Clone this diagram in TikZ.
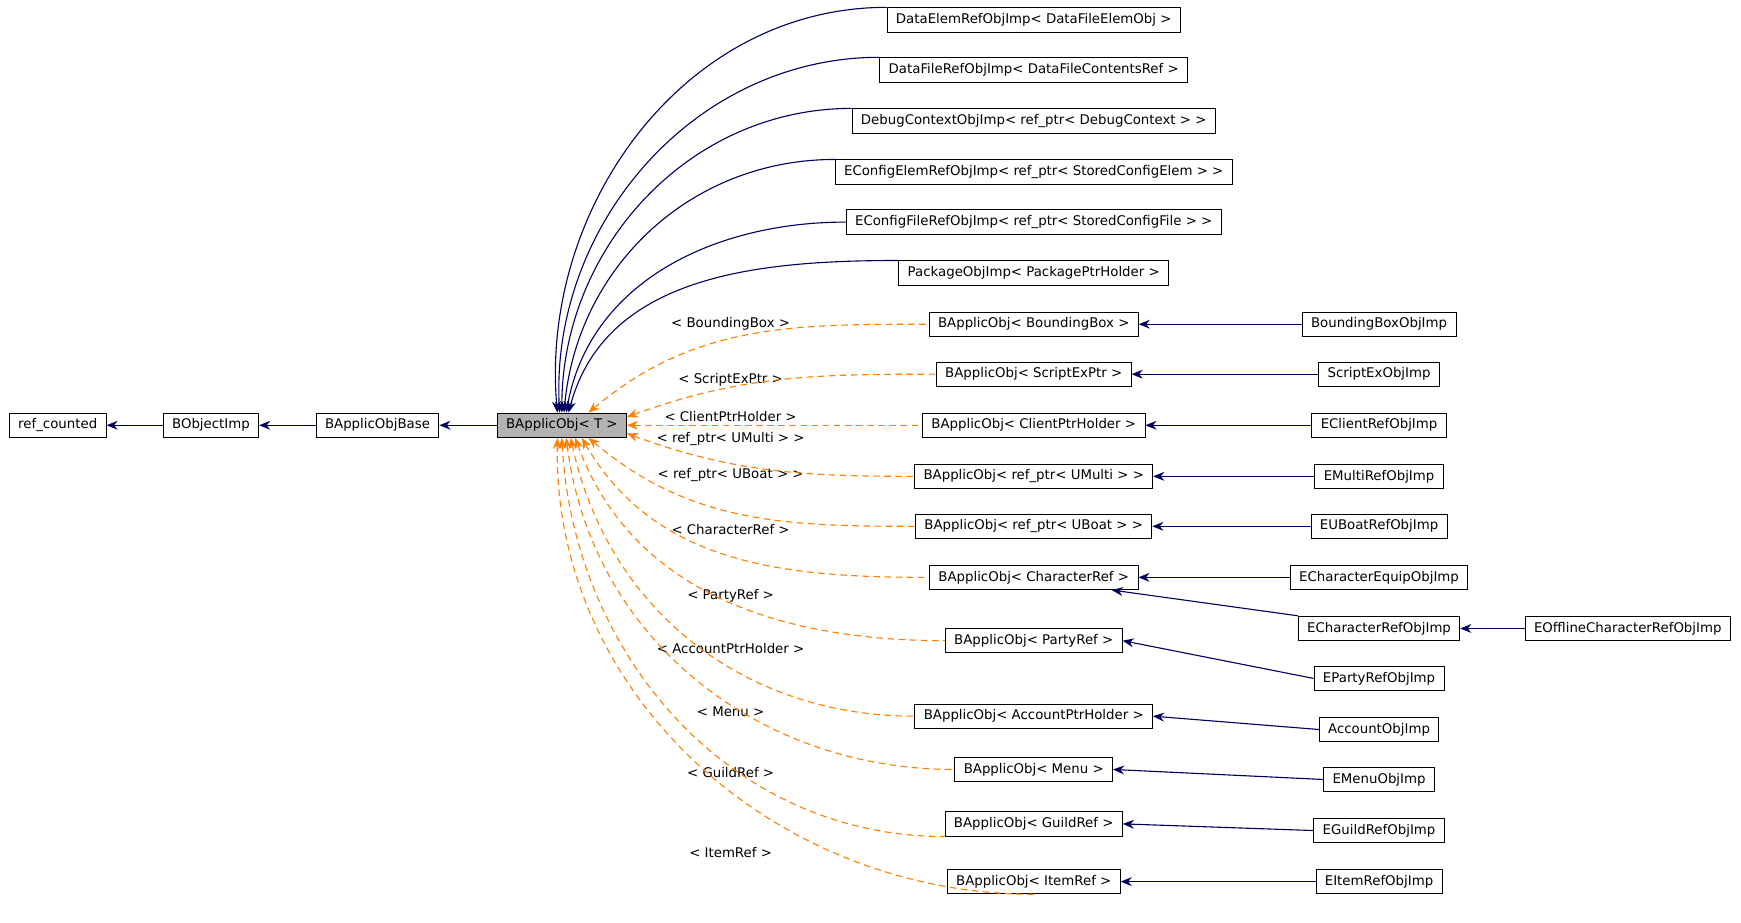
\documentclass[tikz,border=0pt]{standalone}
\usepackage{fontspec}
\setmainfont{DejaVu Sans}
\usetikzlibrary{arrows.meta}
\begin{document}
\begin{tikzpicture}[x=0.5pt,y=-0.5pt,
  box/.style={draw,fill=white,font=\fontsize{6}{7}\selectfont,inner xsep=4pt,minimum height=11pt,inner ysep=0pt},
  inh/.style={draw=blue!30!black!90!blue,{Stealth[length=5pt,width=4pt]}-,line width=0.5pt},
  tmpl/.style={draw=orange,dashed,dash pattern=on 3pt off 2pt,{Stealth[length=5pt,width=4pt]}-,line width=0.5pt},
  lab/.style={font=\fontsize{6}{7}\selectfont,inner sep=0pt}]
\useasboundingbox (0,0) rectangle (1568,831);
\node[box] (rc) at (52,383) {ref\_counted};
\node[box] (boi) at (190,383) {BObjectImp};
\node[box] (bab) at (340,383) {BApplicObjBase};
\node[box,fill=black!30] (T) at (506,383) {BApplicObj< T >};
\draw[inh] (rc) -- (boi);
\draw[inh] (boi) -- (bab);
\draw[inh] (bab) -- (T);
% solid children
\node[box] (d1) at (931,18) {DataElemRefObjImp< DataFileElemObj >};
\node[box] (d2) at (931,63) {DataFileRefObjImp< DataFileContentsRef >};
\node[box] (d3) at (931,109) {DebugContextObjImp< ref\_ptr< DebugContext > >};
\node[box] (d4) at (931,155) {EConfigElemRefObjImp< ref\_ptr< StoredConfigElem > >};
\node[box] (d5) at (931,200) {EConfigFileRefObjImp< ref\_ptr< StoredConfigFile > >};
\node[box] (d6) at (931,246) {PackageObjImp< PackagePtrHolder >};
\draw[inh] ([xshift=-2]T.north) to[out=95,in=180] (d1.north west);
\draw[inh] ([xshift=-1]T.north) to[out=93,in=180] (d2.north west);
\draw[inh] ([xshift=0]T.north) to[out=90,in=180] (d3.north west);
\draw[inh] ([xshift=1]T.north) to[out=85,in=180] (d4.north west);
\draw[inh] ([xshift=2]T.north) to[out=80,in=180] (d5.west);
\draw[inh] ([xshift=3]T.north) to[out=75,in=180] (d6.north west);
% template instances
\foreach \n/\y/\t/\l/\ly/\inn in {
 bb/292/BoundingBox/BoundingBox/292/60,
 se/337/ScriptExPtr/ScriptExPtr/342/30,
 cp/383/ClientPtrHolder/ClientPtrHolder/375/0,
 um/429/ref\_ptr< UMulti >/ref\_ptr< UMulti >/395/-20,
 ub/474/ref\_ptr< UBoat >/ref\_ptr< UBoat >/428/-40,
 cr/520/CharacterRef/CharacterRef/477/-60,
 pr/577/PartyRef/PartyRef/537/-75,
 ap/645/AccountPtrHolder/AccountPtrHolder/584/-85,
 me/693/Menu/Menu/641/-90,
 gr/742/GuildRef/GuildRef/696/-92,
 ir/794/ItemRef/ItemRef/768/-95}{
 \node[box] (\n) at (931,\y) {BApplicObj< \t\ >};
 \node[lab] at (658,\ly) {< \l\ >};
}
\draw[tmpl] ([xshift=12]T.north) to[out=40,in=180] (bb.west);
\draw[tmpl] ([yshift=-2]T.north east) to[out=20,in=180] (se.west);
\draw[tmpl] (T.east) -- (cp.west);
\draw[tmpl] ([yshift=2]T.south east) to[out=-20,in=180] (um.west);
\draw[tmpl] ([xshift=12]T.south) to[out=-40,in=180] (ub.west);
\draw[tmpl] ([xshift=9]T.south) to[out=-60,in=180] (cr.west);
\draw[tmpl] ([xshift=6]T.south) to[out=-70,in=180] (pr.west);
\draw[tmpl] ([xshift=4]T.south) to[out=-78,in=180] (ap.west);
\draw[tmpl] ([xshift=2]T.south) to[out=-83,in=180] (me.west);
\draw[tmpl] ([xshift=0]T.south) to[out=-87,in=180] (gr.south west);
\draw[tmpl] ([xshift=-2]T.south) to[out=-91,in=180] (ir.south);
% third column
\foreach \n/\p/\y/\t in {
 bbo/bb/292/BoundingBoxObjImp,
 seo/se/337/ScriptExObjImp,
 cpo/cp/383/EClientRefObjImp,
 umo/um/429/EMultiRefObjImp,
 ubo/ub/474/EUBoatRefObjImp,
 ceo/cr/520/ECharacterEquipObjImp,
 pro/pr/611/EPartyRefObjImp,
 apo/ap/657/AccountObjImp,
 meo/me/702/EMenuObjImp,
 gro/gr/748/EGuildRefObjImp,
 iro/ir/794/EItemRefObjImp}{
 \node[box] (\n) at (1242,\y) {\t};
 \draw[inh] (\p.east) -- (\n.west);
}
\node[box] (cro) at (1242,566) {ECharacterRefObjImp};
\node[box] (oco) at (1466,566) {EOfflineCharacterRefObjImp};
\draw[inh] ([xshift=-12]cr.south east) -- (cro.north west);
\draw[inh] (cro) -- (oco);
\end{tikzpicture}
\end{document}
